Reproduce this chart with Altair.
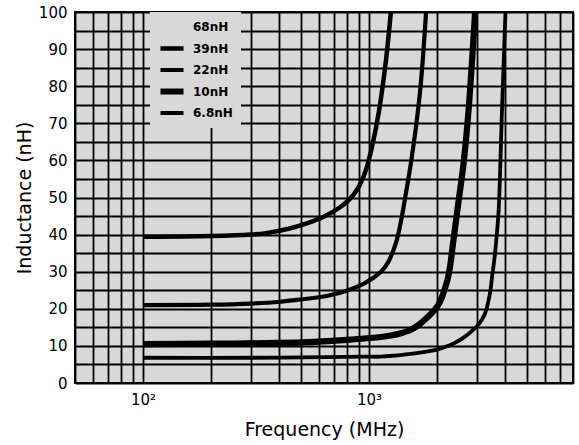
import altair as alt
import pandas as pd

# ---- data ----
series_names = ["68nH", "39nH", "22nH", "10nH", "6.8nH"]
line_widths = [0, 4.5, 4.2, 6.2, 3.8]

f_39 = [100, 200, 300, 350, 450, 530, 630, 750, 820, 890, 930, 970, 1040, 1110, 1190, 1250]
L_39 = [39.4, 39.6, 40.0, 40.4, 41.7, 43.0, 44.8, 47.5, 49.5, 52.3, 54.6, 57.4, 64.6, 73.6, 87.1, 100]

f_22 = [100, 200, 300, 405, 480, 680, 950, 1130, 1210, 1320, 1390, 1440, 1540, 1680, 1790]
L_22 = [21.0, 21.1, 21.4, 21.9, 22.4, 23.7, 26.8, 30.0, 32.3, 38.0, 44.0, 49.3, 60.0, 78.0, 100]

f_10 = [100, 200, 400, 570, 800, 950, 1130, 1250, 1400, 1500, 1590, 1680, 1770, 1960, 2060,
        2170, 2230, 2280, 2360, 2480, 2620, 2760, 2950]
L_10 = [10.5, 10.6, 10.8, 11.1, 11.6, 12.0, 12.4, 12.8, 13.5, 14.1, 14.9, 15.9, 17.1, 19.8, 21.8,
        25.5, 28.0, 31.0, 38.0, 48.0, 59.0, 73.6, 100]

f_68 = [100, 300, 500, 950, 1130, 1300, 1590, 2000, 2240, 2400, 2660, 2850, 3060, 3240,
        3310, 3370, 3440, 3505, 3600, 3680, 3750, 3880, 4020]
L_68 = [6.8, 6.8, 6.9, 7.1, 7.1, 7.4, 8.0, 9.0, 10.0, 10.8, 12.5, 14.0, 15.8, 18.3,
        19.8, 21.8, 24.5, 28.5, 34.0, 40.0, 46.6, 73.6, 100]

x_grid = [50, 60, 70, 80, 90, 100, 200, 300, 400, 500, 600, 700, 800, 900,
          1000, 2000, 3000, 4000, 5000, 6000, 7000, 8000]
y_grid = list(range(0, 101, 5))

# ---- build table ----
width_of = dict(zip(series_names, line_widths))
rows = []
for name, fs, Ls in [("39nH", f_39, L_39), ("22nH", f_22, L_22),
                     ("10nH", f_10, L_10), ("6.8nH", f_68, L_68)]:
    for f, L in zip(fs, Ls):
        rows.append({"series": name, "f": f, "L": L, "w": width_of[name]})
df = pd.DataFrame(rows)

label_expr = ""
for name, w in zip(series_names, line_widths):
    label_expr += f"datum.value == {w} ? '{name}' : "
label_expr += "''"

BG = "#d8d8d8"
FONT = "DejaVu Sans"

chart = alt.Chart(df).mark_line(color="black", interpolate="catmull-rom", strokeCap="butt").encode(
    x=alt.X("f:Q",
            scale=alt.Scale(type="log", domain=[50, 8000], nice=False),
            axis=alt.Axis(values=x_grid,
                          labelExpr="datum.value == 100 ? '10²' : datum.value == 1000 ? '10³' : ''",
                          labelOverlap=False, labelFlush=False,
                          ticks=False, domain=False,
                          grid=True, gridColor="black", gridWidth=1.8, gridOpacity=1,
                          labelFont=FONT, labelFontSize=15, labelColor="black",
                          labelPadding=9,
                          title="Frequency (MHz)", titleFont=FONT, titleFontSize=19,
                          titleFontWeight="normal", titleColor="black",
                          titleY=52, titleBaseline="alphabetic")),
    y=alt.Y("L:Q",
            scale=alt.Scale(domain=[0, 100], nice=False),
            axis=alt.Axis(values=y_grid,
                          labelExpr="datum.value % 10 == 0 ? datum.label : ''",
                          labelOverlap=False, labelFlush=False,
                          ticks=False, domain=False,
                          grid=True, gridColor="black", gridWidth=1.8, gridOpacity=1,
                          labelFont=FONT, labelFontSize=15, labelColor="black",
                          labelPadding=8,
                          title="Inductance (nH)", titleFont=FONT, titleFontSize=19,
                          titleFontWeight="normal", titleColor="black",
                          titleX=-51, titleY=185.5, titleAngle=270,
                          titleAlign="center", titleBaseline="middle")),
    strokeWidth=alt.StrokeWidth("w:Q",
                                scale=alt.Scale(domain=[0, 8], range=[0, 8]),
                                legend=alt.Legend(orient="none", legendX=75, legendY=0,
                                                  values=line_widths, labelExpr=label_expr,
                                                  title=None,
                                                  symbolType="M-3,0H3", symbolSize=59,
                                                  symbolStrokeColor="black",
                                                  symbolOffset=7, labelOffset=14,
                                                  clipHeight=14,
                                                  fillColor=BG, padding=8, rowPadding=7.5,
                                                  labelFont=FONT, labelFontSize=12,
                                                  labelFontWeight="bold", labelColor="black")),
    detail="series:N",
).properties(
    width=498, height=371,
    background="white",
    autosize=alt.AutoSizeParams(type="none"),
    padding={"left": 75, "top": 12, "right": 6, "bottom": 62},
).configure_view(
    fill=BG, stroke="black", strokeWidth=2,
)

chart.save("out.html", embed_options={"renderer": "svg", "actions": False})
